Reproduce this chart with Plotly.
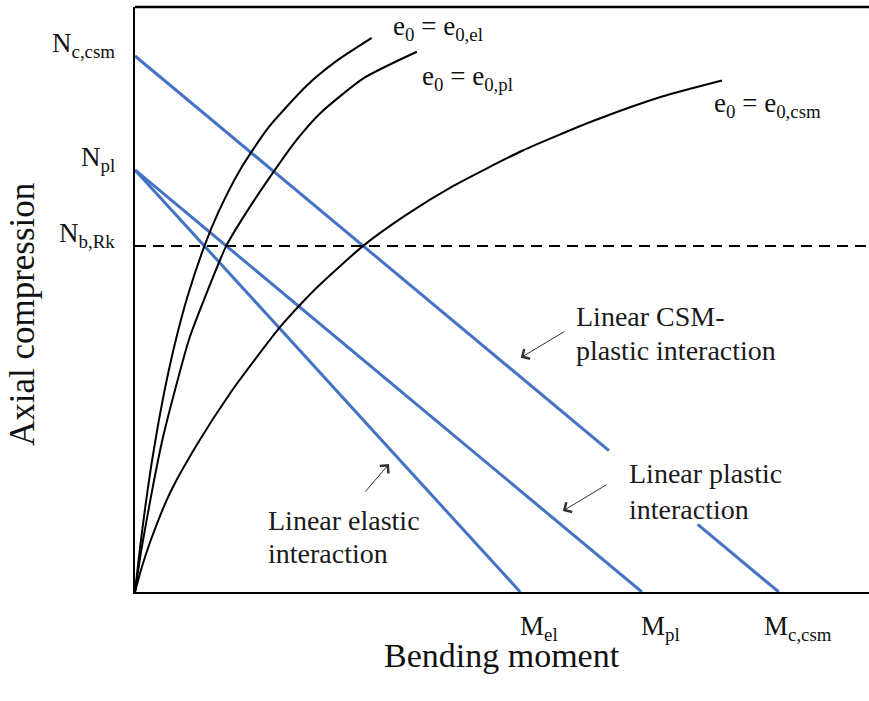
import plotly.graph_objects as go

# Resistances normalised by the plastic values (N / N_pl, M / M_pl)
N_C_CSM = 1.27
N_PL = 1.0
N_B_RK = 0.82
M_EL = 0.76
M_PL = 1.0
M_C_CSM = 1.27

y_tick_vals = [N_C_CSM, N_PL, N_B_RK]
y_tick_text = ["N<sub>c,csm</sub>", "N<sub>pl</sub>", "N<sub>b,Rk</sub>"]
x_tick_vals = [M_EL, M_PL, M_C_CSM]
x_tick_text = ["M<sub>el</sub>", "M<sub>pl</sub>", "M<sub>c,csm</sub>"]

# CSM interaction line is interrupted where the "Linear plastic" label sits
CSM_GAP = [0.935, 1.11]

# Load paths (bending moment, axial compression) for each imperfection amplitude
el_m = [0, 0.0094, 0.0201, 0.0321, 0.0461, 0.0622, 0.0811, 0.1036, 0.137,
        0.1645, 0.2072, 0.263, 0.339, 0.3996, 0.467]
el_n = [0, 0.10, 0.20, 0.30, 0.40, 0.50, 0.60, 0.70, 0.82,
        0.90, 1.00, 1.10, 1.20, 1.26, 1.313]

pl_m = [0, 0.0125, 0.034, 0.054, 0.079, 0.107, 0.136, 0.180, 0.220, 0.276,
        0.318, 0.366, 0.452, 0.556]
pl_n = [0, 0.10, 0.242, 0.36, 0.479, 0.60, 0.692, 0.82, 0.90, 1.00,
        1.07, 1.135, 1.218, 1.28]

csm_m = [0, 0.0118, 0.032, 0.069, 0.1223, 0.1874, 0.2525, 0.288, 0.328, 0.362,
         0.450, 0.532, 0.628, 0.765, 0.906, 1.040, 1.158]
csm_n = [0, 0.0521, 0.1256, 0.2346, 0.3495, 0.4704, 0.5758, 0.6303, 0.6836, 0.7251,
         0.820, 0.891, 0.962, 1.046, 1.117, 1.174, 1.212]

X_RANGE = [0, 1.448]
Y_RANGE = [0, 1.386]

FONT = "Liberation Serif"
BLUE = "#4472C4"
INK = "#111111"

fig = go.Figure()


def interaction(n0, m0, xs):
    return [None if x is None else n0 * (1 - x / m0) for x in xs]


# Linear interaction lines
fig.add_trace(go.Scatter(x=[0, M_EL], y=interaction(N_PL, M_EL, [0, M_EL]),
                         mode="lines", line=dict(color=BLUE, width=3)))
fig.add_trace(go.Scatter(x=[0, M_PL], y=interaction(N_PL, M_PL, [0, M_PL]),
                         mode="lines", line=dict(color=BLUE, width=3)))
csm_x = [0, CSM_GAP[0], None, CSM_GAP[1], M_C_CSM]
fig.add_trace(go.Scatter(x=csm_x, y=interaction(N_C_CSM, M_C_CSM, csm_x),
                         mode="lines", line=dict(color=BLUE, width=3),
                         connectgaps=False))

# Load paths
for m, n in [(el_m, el_n), (pl_m, pl_n), (csm_m, csm_n)]:
    fig.add_trace(go.Scatter(x=m, y=n, mode="lines",
                             line=dict(color="black", width=2, shape="spline", smoothing=0.6)))

# Buckling resistance level
fig.add_trace(go.Scatter(x=[0, X_RANGE[1]], y=[N_B_RK, N_B_RK], mode="lines",
                         line=dict(color="black", width=2, dash="11px,7px")))

annotations = []
tick_font = dict(family=FONT, size=27, color=INK)
for v, t in zip(y_tick_vals, y_tick_text):
    annotations.append(dict(x=0, y=v, xref="x", yref="y", text=t, showarrow=False,
                            xanchor="right", yanchor="middle", xshift=-18, yshift=11,
                            font=tick_font))
for v, t in zip(x_tick_vals, x_tick_text):
    annotations.append(dict(x=v, y=0, xref="x", yref="y", text=t, showarrow=False,
                            xanchor="center", yanchor="middle", xshift=19, yshift=-36,
                            font=tick_font))

# Curve labels
curve_labels = [
    ("e<sub>0</sub> = e<sub>0,el</sub>", 0.505, 1.336),
    ("e<sub>0</sub> = e<sub>0,pl</sub>", 0.562, 1.218),
    ("e<sub>0</sub> = e<sub>0,csm</sub>", 1.138, 1.154),
]
for t, x, y in curve_labels:
    annotations.append(dict(x=x, y=y, xref="x", yref="y", text=t, showarrow=False,
                            xanchor="left", yanchor="middle", font=tick_font))

# Interaction line labels
lab_font = dict(family=FONT, size=28, color="#1a1a1a")
line_labels = [
    ("Linear CSM-", 0.866, 0.652),
    ("plastic interaction", 0.866, 0.571),
    ("Linear plastic", 0.970, 0.280),
    ("interaction", 0.970, 0.196),
    ("Linear elastic", 0.258, 0.170),
    ("interaction", 0.258, 0.092),
]
for t, x, y in line_labels:
    annotations.append(dict(x=x, y=y, xref="x", yref="y", text=t, showarrow=False,
                            xanchor="left", yanchor="middle", font=lab_font))

# Pointer arrows (head position, tail offset in px)
arrows = [(0.761, 0.555, 45, -27), (0.844, 0.192, 45, -27), (0.501, 0.303, -25, 29)]
for x, y, ax, ay in arrows:
    annotations.append(dict(x=x, y=y, xref="x", yref="y", ax=ax, ay=ay, text="",
                            showarrow=True, arrowhead=4, arrowsize=2.2, arrowwidth=1,
                            arrowcolor="#333333", standoff=0))

# Axis titles
annotations.append(dict(x=0.5, y=-0.108, xref="paper", yref="paper", text="Bending moment",
                        showarrow=False, xanchor="center", yanchor="middle",
                        font=dict(family=FONT, size=34, color=INK)))
annotations.append(dict(x=-0.154, y=0.475, xref="paper", yref="paper", text="Axial compression",
                        showarrow=False, textangle=-90, xanchor="center", yanchor="middle",
                        font=dict(family=FONT, size=35, color=INK)))

fig.update_layout(
    width=869, height=701,
    margin=dict(l=135, r=0, t=7, b=109),
    paper_bgcolor="white", plot_bgcolor="white",
    showlegend=False,
    annotations=annotations,
    shapes=[dict(type="line", xref="paper", yref="paper", x0=0, x1=1, y0=1, y1=1,
                 line=dict(color="black", width=2.5))],
    xaxis=dict(range=X_RANGE, showgrid=False, zeroline=False, showticklabels=False,
               showline=True, linecolor="black", linewidth=2, ticks=""),
    yaxis=dict(range=Y_RANGE, showgrid=False, zeroline=False, showticklabels=False,
               showline=True, linecolor="black", linewidth=2, ticks=""),
)

fig.write_html("out.html")
